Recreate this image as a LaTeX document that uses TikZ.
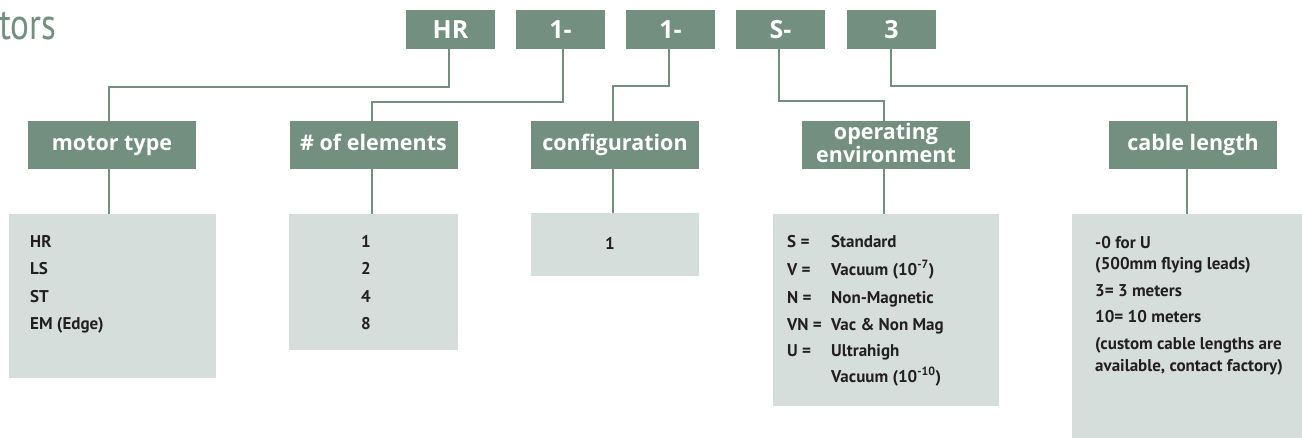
\documentclass[tikz,border=0pt]{standalone}
\usepackage{fontspec}
\setmainfont{Open Sans}
\newfontfamily\itemfont{PT Sans}
\newfontfamily\titlefont{PT Sans}[FakeStretch=0.8]
\definecolor{boxgreen}{HTML}{738F80}
\definecolor{panelgray}{HTML}{D5DEDB}
\definecolor{itemtext}{HTML}{231F20}
\tikzset{
  codebox/.style={fill=boxgreen, text=white, inner sep=0pt, minimum width=89pt, minimum height=39pt,
    font=\bfseries\fontsize{25}{25}\selectfont},
  lblbox/.style={fill=boxgreen, text=white, inner sep=0pt, minimum width=168pt, minimum height=48pt,
    font=\bfseries\fontsize{21.5}{21}\selectfont, align=center},
  onelbl/.style={lblbox, text height=10.5pt, text depth=0pt},
  graybox/.style={fill=panelgray, inner sep=0pt, anchor=north west},
  itm/.style={anchor=base west, inner sep=0pt, text=itemtext, font=\itemfont\bfseries\fontsize{17}{17}\selectfont},
  conn/.style={draw=boxgreen, line width=1.6pt},
}
\begin{document}
\begin{tikzpicture}[x=1pt,y=-1pt]
\useasboundingbox (0,0) rectangle (1302,437);
% title
\node[anchor=base west, inner sep=0pt, text=boxgreen, font=\titlefont\fontsize{44}{44}\selectfont] (title) at (-1,39) {tors};
% code boxes
\node[codebox] (hr) at (450.5,29.5) {HR};
\node[codebox] (c1) at (560.5,29.5) {1-};
\node[codebox] (c2) at (670.5,29.5) {1-};
\node[codebox] (cs) at (780.5,29.5) {S-};
\node[codebox] (c3) at (891.5,29.5) {3};
% label boxes
\node[onelbl] (motor) at (112,145) {motor type};
\node[onelbl] (elem) at (373.5,145) {\# of elements};
\node[onelbl] (config) at (615,145) {configuration};
\node[lblbox] (openv) at (886,145) {};
\node[lblbox, fill=none, anchor=center] (openvtext) at (886,143) {operating\\environment};
\node[onelbl] (cable) at (1193,145) {cable length};
% gray panels
\node[graybox, minimum width=207pt, minimum height=164pt] (g1) at (9,214) {};
\node[graybox, minimum width=169pt, minimum height=136pt] (g2) at (289,214) {};
\node[graybox, minimum width=168pt, minimum height=63pt] (g3) at (531,213) {};
\node[graybox, minimum width=226pt, minimum height=192pt] (g4) at (773,214) {};
\node[graybox, minimum width=240pt, minimum height=230pt] (g5) at (1072,214) {};
% connectors top
\draw[conn] ([xshift=-1.5pt]hr.south) -- ++(0,38) -| ([xshift=-3pt]motor.north);
\draw[conn] ([xshift=2.5pt]c1.south) -- ++(0,53) -| ([xshift=-1.5pt]elem.north);
\draw[conn] ([xshift=-1.5pt]c2.south) -- ++(0,37) -| ([xshift=-2pt]config.north);
\draw[conn] ([xshift=-1.5pt]cs.south) -- ++(0,52) -| ([xshift=-2pt]openv.north);
\draw[conn] ([xshift=-0.5pt]c3.south) -- ++(0,37) -| ([xshift=-6pt]cable.north);
% connectors down
\draw[conn] ([xshift=-3pt]motor.south) -- ([xshift=-3pt]motor.south |- g1.north);
\draw[conn] ([xshift=-1.5pt]elem.south) -- ([xshift=-1.5pt]elem.south |- g2.north);
\draw[conn] ([xshift=-2pt]config.south) -- ([xshift=-2pt]config.south |- g3.north);
\draw[conn] ([xshift=-2pt]openv.south) -- ([xshift=-2pt]openv.south |- g4.north);
\draw[conn] ([xshift=-6pt]cable.south) -- ([xshift=-6pt]cable.south |- g5.north);
% panel 1
\node[itm] (m1) at (30,247) {HR};
\node[itm] (m2) at (30,274) {LS};
\node[itm] (m3) at (30,302) {ST};
\node[itm] (m4) at (30,329) {EM (Edge)};
% panel 2
\node[itm] (e1) at (361,247) {1};
\node[itm] (e2) at (361,274) {2};
\node[itm] (e3) at (361,302) {4};
\node[itm] (e4) at (361,329) {8};
% panel 3
\node[itm] (f1) at (605,249) {1};
% panel 4
\node[itm] (o1k) at (787,247) {S =};
\node[itm] (o1v) at (831,247) {Standard};
\node[itm] (o2k) at (787,275) {V =};
\node[itm] (o2v) at (831,275) {Vacuum (10\textsuperscript{-7})};
\node[itm] (o3k) at (787,303) {N =};
\node[itm] (o3v) at (831,303) {Non-Magnetic};
\node[itm] (o4k) at (787,330) {VN =};
\node[itm] (o4v) at (831,330) {Vac \& Non Mag};
\node[itm] (o5k) at (787,356) {U =};
\node[itm] (o5v) at (831,356) {Ultrahigh};
\node[itm] (o6v) at (831,382) {Vacuum (10\textsuperscript{-10})};
% panel 5
\node[itm] (l1) at (1095,248) {-0 for U};
\node[itm] (l2) at (1095,269) {(500mm flying leads)};
\node[itm] (l3) at (1095,296) {3= 3 meters};
\node[itm] (l4) at (1095,322) {10= 10 meters};
\node[itm] (l5) at (1095,349) {(custom cable lengths are};
\node[itm] (l6) at (1095,371) {available, contact factory)};
\end{tikzpicture}
\end{document}
